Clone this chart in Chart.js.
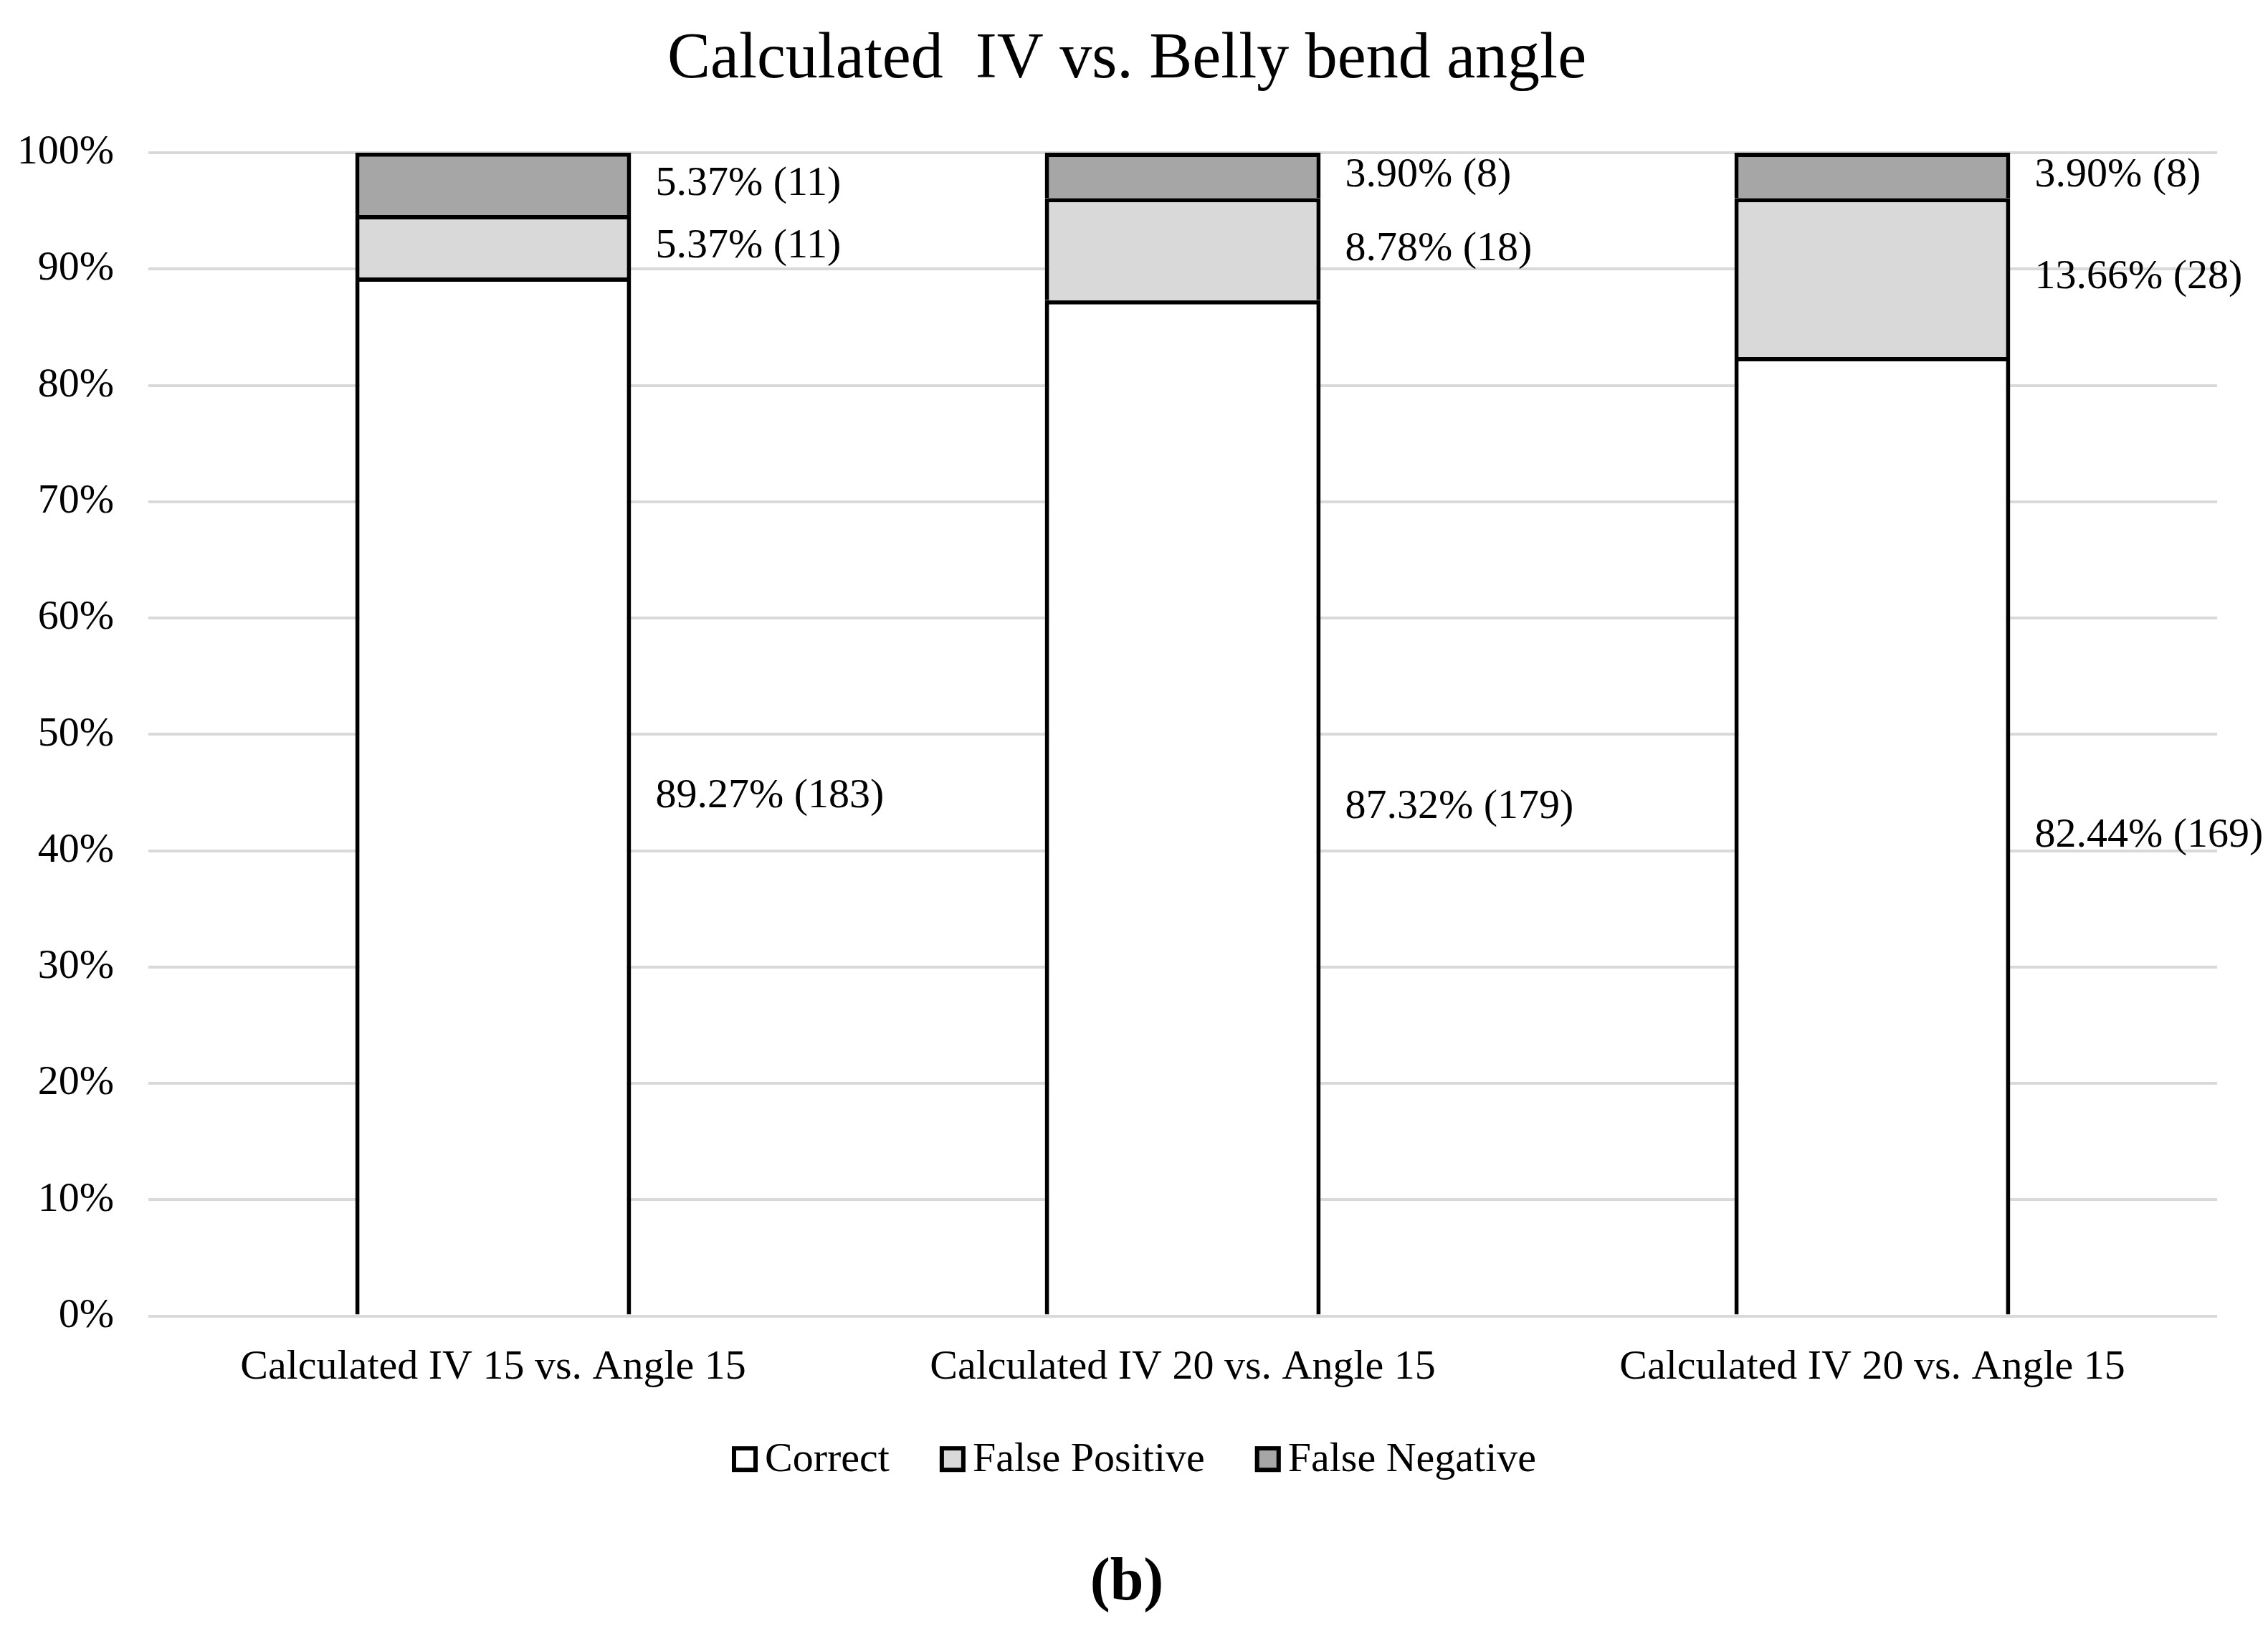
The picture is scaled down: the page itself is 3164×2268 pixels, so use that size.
<!DOCTYPE html>
<html>
<head>
<meta charset="utf-8">
<script src="https://cdn.jsdelivr.net/npm/chart.js@4.4.0/dist/chart.umd.min.js"></script>
<style>
html,body{margin:0;padding:0;background:#ffffff;}
#wrap{width:3164px;height:2268px;}
canvas{display:block;}
</style>
</head>
<body>
<div id="wrap"><canvas id="c" width="3164" height="2268"></canvas></div>
<script>
// ---- data ----
const categories = ['Calculated IV 15 vs. Angle 15', 'Calculated IV 20 vs. Angle 15', 'Calculated IV 20 vs. Angle 15'];
const seriesNames = ['Correct', 'False Positive', 'False Negative'];
const correctPct = [89.27, 87.32, 82.44];
const falsePositivePct = [5.37, 8.78, 13.66];
const falseNegativePct = [5.37, 3.90, 3.90];
const correctCount = [183, 179, 169];
const falsePositiveCount = [11, 18, 28];
const falseNegativeCount = [11, 8, 8];
const yTickValues = [0, 10, 20, 30, 40, 50, 60, 70, 80, 90, 100];
const titleText = 'Calculated  IV vs. Belly bend angle';
const panelLabel = '(b)';

// ---- style ----
const FONT = "'Liberation Serif', 'Times New Roman', serif";
const colors = ['#ffffff', '#d9d9d9', '#a6a6a6'];

const counts = [correctCount, falsePositiveCount, falseNegativeCount];
const values = [correctPct, falsePositivePct, falseNegativePct];

const dataLabelPlugin = {
  id: 'dataLabels',
  afterDatasetsDraw(chart) {
    const ctx = chart.ctx;
    ctx.save();
    ctx.font = '58px ' + FONT;
    ctx.fillStyle = '#000';
    ctx.textAlign = 'left';
    ctx.textBaseline = 'middle';
    chart.data.datasets.forEach((ds, i) => {
      const meta = chart.getDatasetMeta(i);
      meta.data.forEach((bar, j) => {
        const p = bar.getProps(['x', 'y', 'base', 'width'], true);
        const tx = p.x + p.width / 2 + 34;
        const ty = (p.y + p.base) / 2;
        ctx.fillText(ds.data[j].toFixed(2) + '% (' + counts[i][j] + ')', tx, ty);
      });
    });
    ctx.restore();
  }
};

const legendPlugin = {
  id: 'customLegend',
  afterDraw(chart) {
    const ctx = chart.ctx;
    ctx.save();
    ctx.font = '58px ' + FONT;
    ctx.textBaseline = 'middle';
    ctx.textAlign = 'left';
    const box = 36, gap = 10, itemGap = 70;
    const items = chart.data.datasets.map(ds => ({label: ds.label, color: ds.backgroundColor, w: ctx.measureText(ds.label).width}));
    const total = items.reduce((s, it) => s + box + gap + it.w, 0) + itemGap * (items.length - 1);
    let x = chart.width / 2 - total / 2;
    const cy = chart.scales.x.bottom + 64;
    items.forEach(it => {
      ctx.fillStyle = it.color;
      ctx.fillRect(x, cy - box / 2, box, box);
      ctx.lineWidth = 6;
      ctx.strokeStyle = '#000';
      ctx.strokeRect(x + 3, cy - box / 2 + 3, box - 6, box - 6);
      ctx.fillStyle = '#000';
      ctx.fillText(it.label, x + box + gap, cy + 2);
      x += box + gap + it.w + itemGap;
    });
    ctx.restore();
  }
};

new Chart(document.getElementById('c'), {
  type: 'bar',
  data: {
    labels: categories,
    datasets: seriesNames.map((name, i) => ({
      label: name,
      data: values[i],
      backgroundColor: colors[i],
      borderColor: '#000000',
      borderWidth: 6,
      barPercentage: 0.8,
      categoryPercentage: 0.5
    }))
  },
  options: {
    responsive: false,
    animation: false,
    devicePixelRatio: 1,
    layout: {padding: {left: 0, right: 20, top: 0, bottom: 0}},
    plugins: {
      legend: {display: false},
      tooltip: {enabled: false},
      title: {
        display: true,
        text: titleText,
        color: '#000',
        font: {family: FONT, size: 90, weight: 'normal'},
        padding: {top: 30, bottom: 75}
      },
      subtitle: {
        display: true,
        position: 'bottom',
        text: panelLabel,
        color: '#000',
        font: {family: FONT, size: 84, weight: 'bold'},
        padding: {top: 188, bottom: 8}
      }
    },
    scales: {
      x: {
        stacked: true,
        grid: {display: false},
        border: {display: false},
        ticks: {color: '#000', font: {family: FONT, size: 58}, padding: 29, maxRotation: 0, autoSkip: false}
      },
      y: {
        stacked: true,
        min: 0,
        max: 100,
        afterFit(scale) { scale.width = 207; },
        afterBuildTicks(scale) { scale.ticks = yTickValues.map(v => ({value: v})); },
        grid: {color: '#d9d9d9', lineWidth: 4, drawTicks: false},
        border: {display: false},
        ticks: {color: '#000', font: {family: FONT, size: 58}, padding: 48, callback: v => v + '%'}
      },
      yRight: {
        type: 'linear',
        position: 'right',
        display: true,
        afterFit(scale) { scale.width = 51; },
        grid: {display: false, drawTicks: false},
        border: {display: false},
        ticks: {display: false}
      }
    }
  },
  plugins: [dataLabelPlugin, legendPlugin]
});
</script>
</body>
</html>
